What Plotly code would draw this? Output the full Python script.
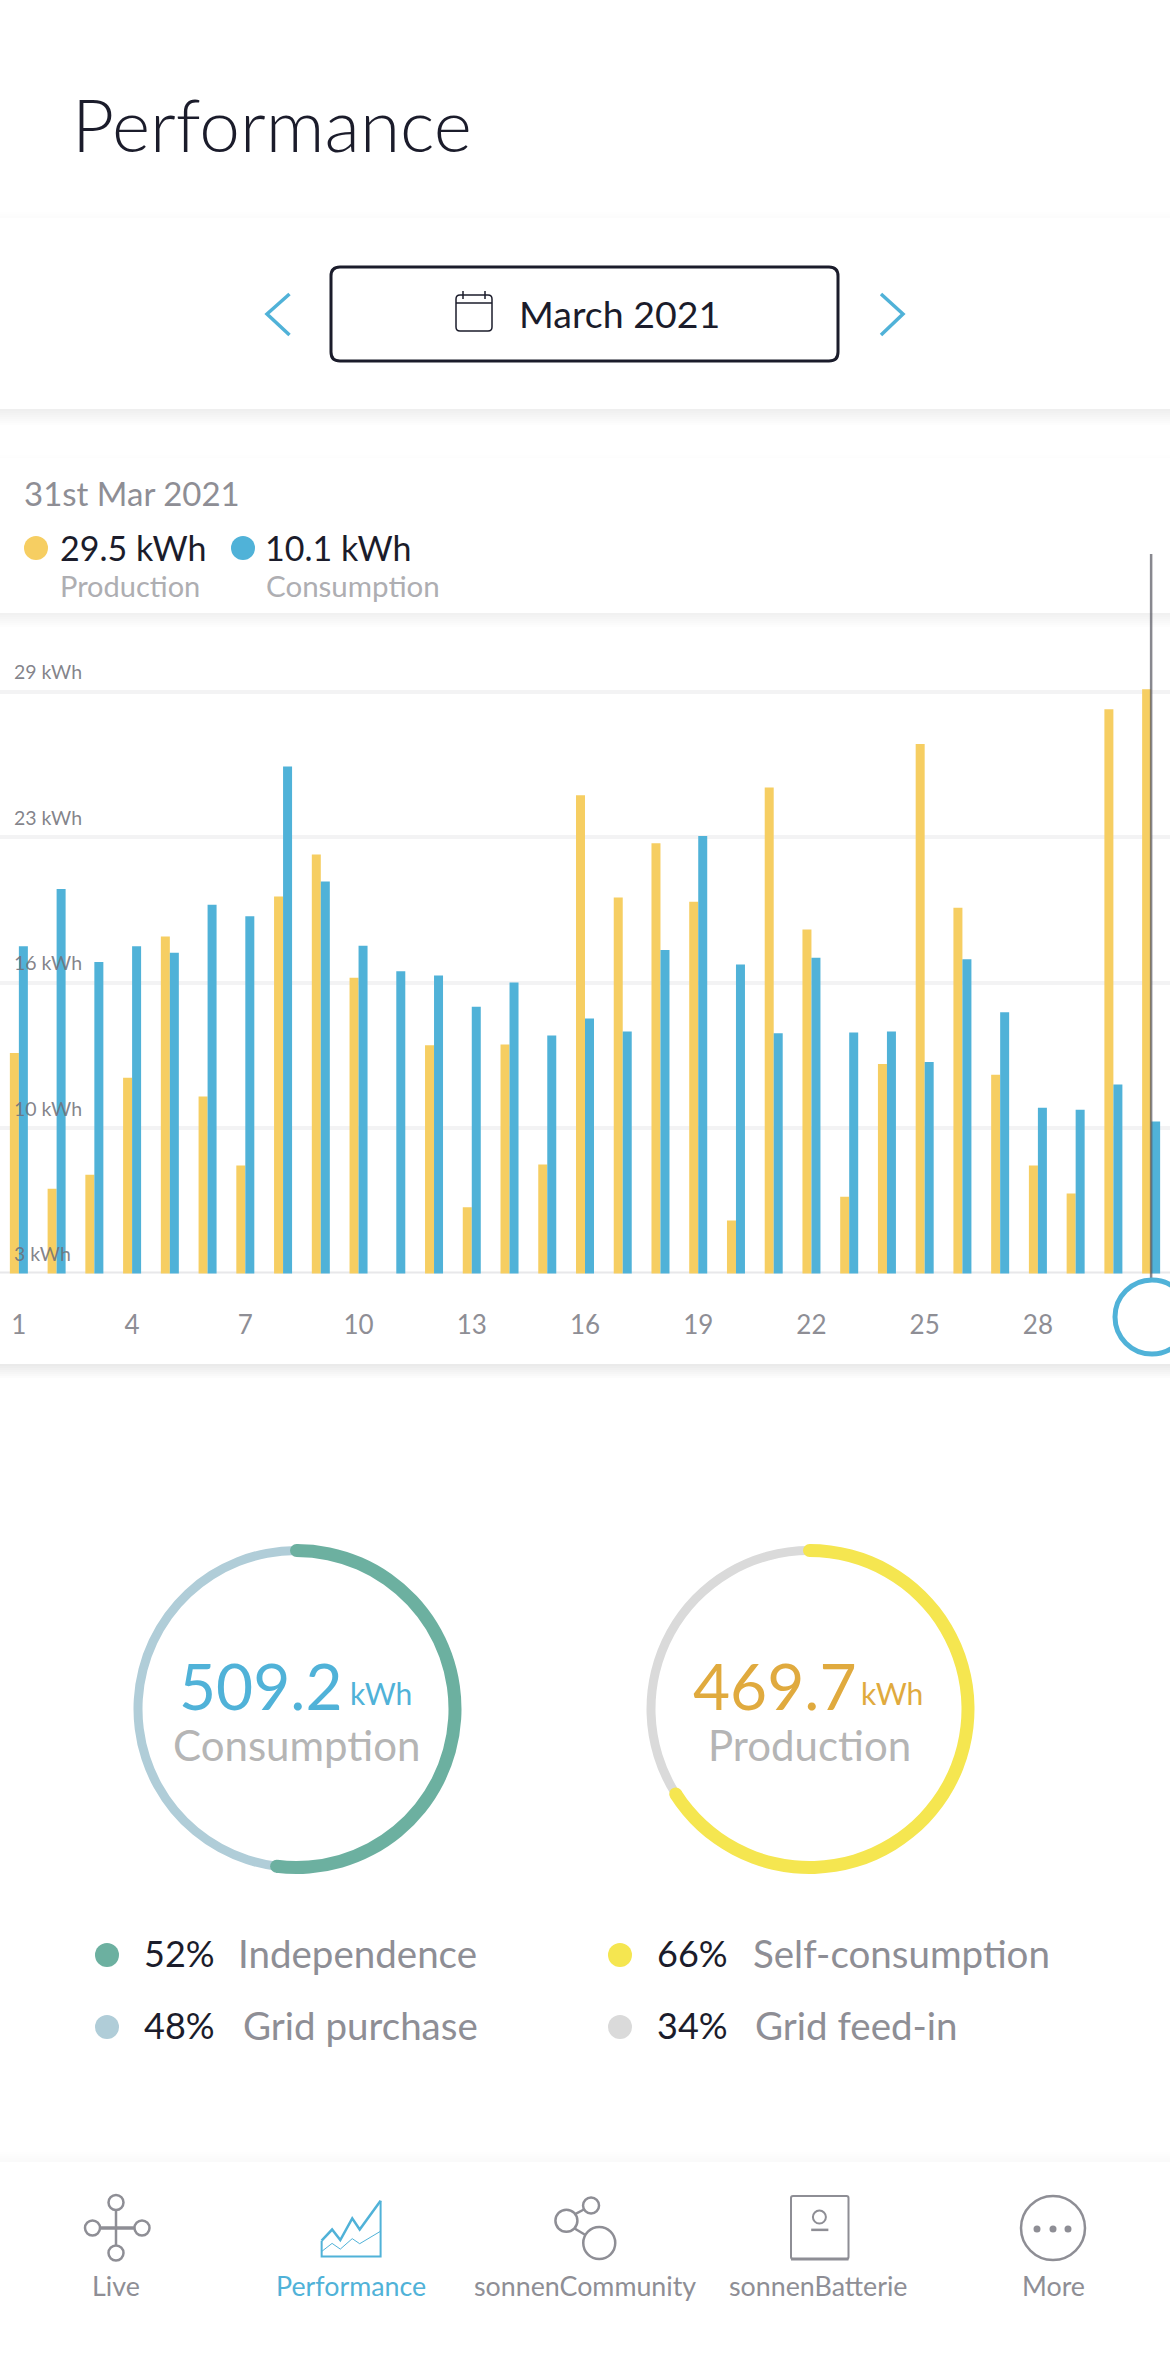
import math
import plotly.graph_objects as go

W, H = 1170, 2360

# ---------- data ----------
days = list(range(1, 32))
production = [13.18, 7.08, 7.71, 12.06, 18.41, 11.22, 8.13, 20.2, 22.08, 16.55, 3.0,
              13.52, 6.25, 13.56, 8.17, 24.74, 20.16, 22.59, 19.97, 5.66, 25.09,
              18.72, 6.73, 12.68, 27.04, 19.7, 12.2, 8.13, 6.87, 28.6, 29.5]
consumption = [17.97, 20.54, 17.26, 17.97, 17.68, 19.83, 19.31, 26.03, 20.87, 17.99, 16.84,
               16.65, 15.25, 16.34, 13.96, 14.73, 14.14, 17.8, 22.92, 17.15, 14.06,
               17.45, 14.1, 14.14, 12.77, 17.38, 15.0, 10.72, 10.63, 11.76, 10.1]
y_tick_values = [3.28, 9.81, 16.34, 22.87, 29.4]
y_tick_labels = ["3 kWh", "10 kWh", "16 kWh", "23 kWh", "29 kWh"]
x_tick_values = [1, 4, 7, 10, 13, 16, 19, 22, 25, 28]
independence = [52, 48]
self_consumption = [66, 34]
consumption_total = "509.2"
production_total = "469.7"

# ---------- colours ----------
INK = "#1b1c2b"
GREY = "#8e8e95"
LIGHT = "#aeaeb2"
BLUE = "#50b2d8"
YEL = "#f6ce62"
GREEN = "#6cb0a0"
PALE = "#b0cdd8"
SUN = "#f5e650"
ASH = "#dadada"
FONT = "Lato"

px = lambda v: v / W
py = lambda v: 1 - v / H

shapes, notes = [], []


def text(x, y, s, size, color, anchor="left", weight=400, vanchor="middle"):
    notes.append(dict(x=px(x), y=py(y), xref="paper", yref="paper", text=s, showarrow=False,
                      xanchor=anchor, yanchor=vanchor, borderpad=0, borderwidth=0,
                      font=dict(family=FONT, size=size, color=color, weight=weight)))


def rect(x0, y0, x1, y1, fill="white", line=None, lw=0, layer="below", opacity=1):
    shapes.append(dict(type="rect", xref="paper", yref="paper", x0=px(x0), x1=px(x1), y0=py(y0), y1=py(y1),
                       fillcolor=fill, line=dict(color=line or "rgba(0,0,0,0)", width=lw), layer=layer, opacity=opacity))


def circle(cx, cy, rx, ry=None, fill="rgba(0,0,0,0)", line=None, lw=0, layer="above"):
    ry = rx if ry is None else ry
    shapes.append(dict(type="circle", xref="paper", yref="paper", x0=px(cx - rx), x1=px(cx + rx),
                       y0=py(cy + ry), y1=py(cy - ry), fillcolor=fill,
                       line=dict(color=line or "rgba(0,0,0,0)", width=lw), layer=layer))


def poly(points, color, lw=2, closed=False, fill="rgba(0,0,0,0)"):
    d = "M " + " L ".join(f"{px(a)} {py(b)}" for a, b in points) + (" Z" if closed else "")
    shapes.append(dict(type="path", xref="paper", yref="paper", path=d, fillcolor=fill,
                       line=dict(color=color, width=lw), layer="above"))


def round_rect(x0, y0, x1, y1, r, color, lw):
    def P(a, b):
        return f"{px(a)} {py(b)}"
    d = (f"M {P(x0 + r, y0)} L {P(x1 - r, y0)} Q {P(x1, y0)} {P(x1, y0 + r)} L {P(x1, y1 - r)} "
         f"Q {P(x1, y1)} {P(x1 - r, y1)} L {P(x0 + r, y1)} Q {P(x0, y1)} {P(x0, y1 - r)} "
         f"L {P(x0, y0 + r)} Q {P(x0, y0)} {P(x0 + r, y0)} Z")
    shapes.append(dict(type="path", xref="paper", yref="paper", path=d, fillcolor="rgba(0,0,0,0)",
                       line=dict(color=color, width=lw), layer="above"))


def shadow(y0, y1, below=14, above=6):
    for i in range(below, 0, -2):
        rect(0, y1, W, y1 + i, fill="rgba(0,0,0,0.009)")
    for i in range(above, 0, -2):
        rect(0, y0 - i, W, y0, fill="rgba(0,0,0,0.005)")
    rect(0, y0, W, y1)


# ---------- cards ----------
shadow(218, 409, 16, 6)
shadow(458, 613, 14, 3)
for i in range(14, 0, -2):
    rect(0, 1364, W, 1364 + i, fill="rgba(0,0,0,0.011)")
for i in range(10, 0, -2):
    rect(0, 2162 - i, W, 2162, fill="rgba(0,0,0,0.004)")

# ---------- header ----------
text(72, 124, "Performance", 73, INK, weight=300)
round_rect(331, 267, 838, 361, 9, INK, 3)
poly([(289.5, 294), (267, 314), (289.5, 335)], BLUE, 3.5)
poly([(881, 294), (903, 314), (881, 335)], BLUE, 3.5)
round_rect(456, 295, 492, 331, 4, INK, 1.5)
poly([(456, 303), (492, 303)], INK, 1.5)
poly([(463, 291), (463, 299)], INK, 1.5)
poly([(485, 291), (485, 299)], INK, 1.5)
text(519, 314, "March 2021", 37.5, INK)

# ---------- tooltip card ----------
text(24, 493, "31st Mar 2021", 33, GREY)
circle(36, 548, 12, fill=YEL)
circle(243, 548, 12, fill=BLUE)
text(60, 547, f"{production[-1]} kWh", 34, INK)
text(265, 547, f"{consumption[-1]} kWh", 34, INK)
text(60, 585, "Production", 29, LIGHT)
text(266, 585, "Consumption", 29.5, LIGHT)

# ---------- chart ----------
fig = go.Figure()
fig.add_bar(x=days, y=production, marker=dict(color=YEL, line_width=0), hoverinfo="skip", name="Production")
fig.add_bar(x=days, y=consumption, marker=dict(color=BLUE, line_width=0), hoverinfo="skip", name="Consumption")

for v, s in zip(y_tick_values, y_tick_labels):
    notes.append(dict(x=px(12), y=v, xref="paper", yref="y", text=s, showarrow=False, xanchor="left",
                      yanchor="middle", yshift=20, font=dict(family=FONT, size=19.5, color="rgba(110,110,118,0.85)")))

shapes.append(dict(type="line", xref="paper", yref="y", x0=0, x1=1, y0=y_tick_values[0], y1=y_tick_values[0],
                   line=dict(color="#e8e8ea", width=4), layer="below"))
shapes.append(dict(type="line", xref="x", yref="paper", x0=days[-1], x1=days[-1], y0=py(554), y1=py(1278),
                   line=dict(color="rgba(85,85,95,0.7)", width=2.5), layer="above"))
circle(1152, 1317, 37, fill="white", line=BLUE, lw=5)


# ---------- donuts ----------
def donut(cx, cy, values, strong, weak):
    def dom(r):
        return dict(x=[px(cx - r), px(cx + r)], y=[py(cy + r), py(cy - r)])
    fig.add_pie(values=values, domain=dom(163), hole=154 / 163, sort=False, direction="clockwise", rotation=0,
                marker=dict(colors=["rgba(0,0,0,0)", weak], line_width=0), textinfo="none", hoverinfo="skip",
                showlegend=False)
    fig.add_pie(values=values, domain=dom(165), hole=152 / 165, sort=False, direction="clockwise", rotation=0,
                marker=dict(colors=[strong, "rgba(0,0,0,0)"], line_width=0), textinfo="none", hoverinfo="skip",
                showlegend=False)
    a = 2 * math.pi * values[0] / sum(values)
    circle(cx, cy - 158.5, 6.5, fill=strong)
    circle(cx + 158.5 * math.sin(a), cy - 158.5 * math.cos(a), 6.5, fill=strong)


donut(296.5, 1709, independence, GREEN, PALE)
donut(809.5, 1709, self_consumption, SUN, ASH)

text(179, 1685, consumption_total, 64, BLUE)
text(350, 1693, "kWh", 30, BLUE)
text(296, 1745, "Consumption", 42, "#b5b5b5", anchor="center")
text(693, 1685, production_total, 64, "#e0aa3e")
text(861, 1693, "kWh", 30, "#e0aa3e")
text(809, 1745, "Production", 42, "#b5b5b5", anchor="center")

for cx, cy, pct, label, col, tx in [
    (107, 1955, independence[0], "Independence", GREEN, 238),
    (107, 2027, independence[1], "Grid purchase", PALE, 243),
    (620, 1955, self_consumption[0], "Self-consumption", SUN, 753),
    (620, 2027, self_consumption[1], "Grid feed-in", ASH, 755),
]:
    circle(cx, cy, 12, fill=col)
    text(cx + 37, cy - 2, f"{pct}%", 36, INK)
    text(tx, cy - 2, label, 38.5, GREY)

# ---------- navigation ----------
for cx, s, c in [(116, "Live", GREY), (351, "Performance", BLUE), (585, "sonnenCommunity", GREY),
                 (818, "sonnenBatterie", GREY), (1053, "More", GREY)]:
    text(cx, 2286, s, 26.8, c, anchor="center")

# Live icon
poly([(116, 2210), (116, 2245)], GREY, 2.5)
poly([(100, 2228), (134, 2228)], GREY, 3.5)
for a, b in [(116, 2202.5), (116, 2253), (92.5, 2228), (142, 2228)]:
    circle(a, b, 7.5, line=GREY, lw=2.5)
# Performance icon
zx = lambda v: v / 1.34
zy = lambda v: 2140 + v / 2.96
poly([(zx(a), zy(b)) for a, b in [(431, 298), (431, 345), (510, 345), (510, 180)]], BLUE, 2)
poly([(zx(a), zy(b)) for a, b in [(431, 298), (445, 265), (456, 296), (472, 232), (482, 265), (510, 180)]], BLUE, 2.5)
poly([(zx(a), zy(b)) for a, b in [(431, 330), (445, 306), (456, 323), (472, 292), (482, 307), (510, 270)]], BLUE, 1)
# Community icon
circle(zx(792), zy(194), 8, line=GREY, lw=2.5)
circle(zx(803), zy(305), 16, line=GREY, lw=2.5)
circle(zx(759), zy(239), 11, line=GREY, lw=2.5)
poly([(zx(770), zy(220)), (zx(783), zy(205))], GREY, 2.5)
poly([(zx(770), zy(262)), (zx(785), zy(282))], GREY, 2.5)
# Battery icon
round_rect(791, 2196, 848.5, 2259, 2, GREY, 2)
poly([(791, 2259), (848.5, 2259)], GREY, 3)
circle(zx(1098), zy(228), 6.5, line=GREY, lw=2)
poly([(zx(1087), zy(266)), (zx(1110), zy(266))], GREY, 2.5)
# More icon
circle(1053, 2228, 32, line=GREY, lw=2.5)
for a in (1037, 1053, 1068):
    circle(a, 2229, 3.5, fill=GREY)

fig.update_layout(
    width=W, height=H, margin=dict(l=0, r=0, t=0, b=0), autosize=False,
    paper_bgcolor="white", plot_bgcolor="rgba(0,0,0,0)", showlegend=False,
    barmode="group", bargap=0.523, bargroupgap=0,
    shapes=shapes, annotations=notes,
    xaxis=dict(domain=[0, 1], range=[0.5, 31.5], tickmode="array", tickvals=x_tick_values,
               ticks="outside", ticklen=28, tickcolor="rgba(0,0,0,0)", showgrid=False, zeroline=False,
               showline=False, anchor="y", fixedrange=True,
               tickfont=dict(family=FONT, size=26, color=GREY)),
    yaxis=dict(domain=[py(1273.5), py(599.5)], range=[3.28, 33.53], tickmode="array", tickvals=y_tick_values[1:],
               showticklabels=False, showgrid=True, gridcolor="#f3f3f4", gridwidth=4, zeroline=False,
               showline=False, fixedrange=True),
)
fig.write_html("out.html", config=dict(displayModeBar=False),
               post_script="document.body.style.margin='0';document.documentElement.style.overflow='hidden';")
